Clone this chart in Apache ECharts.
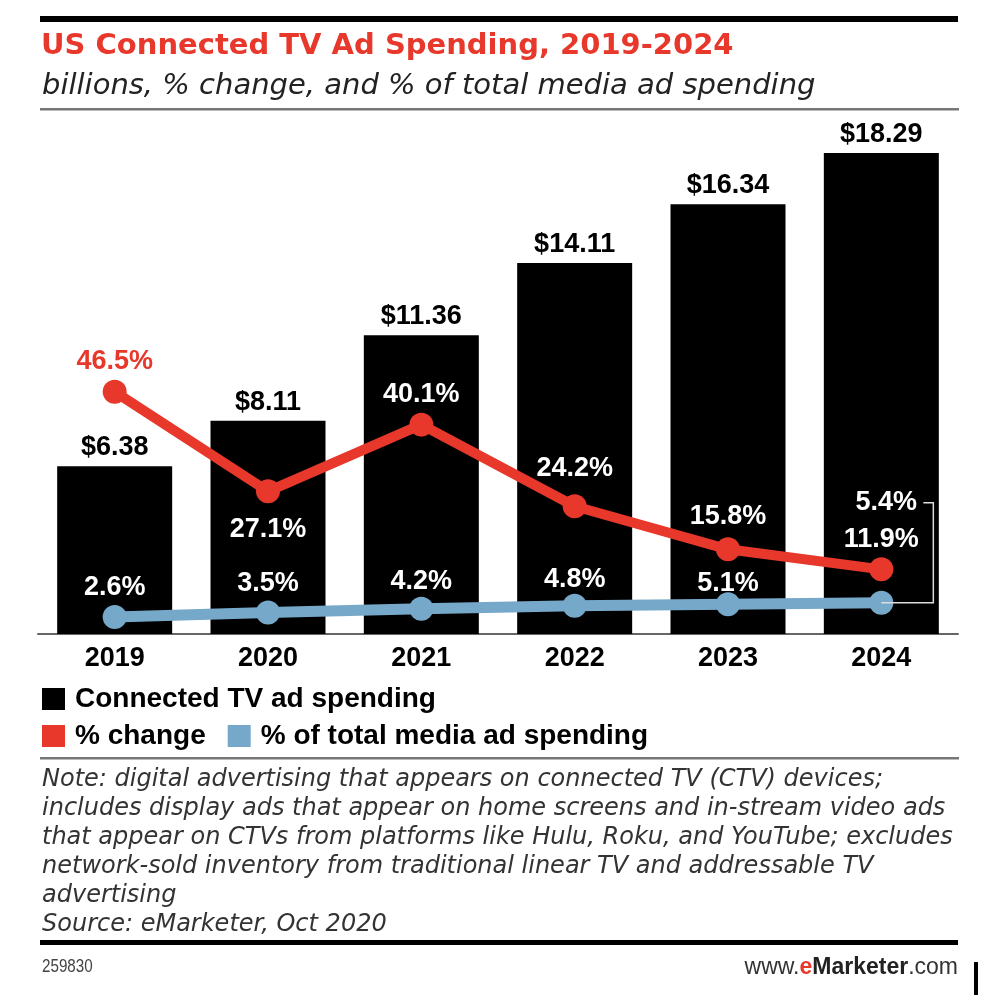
<!DOCTYPE html>
<html>
<head>
<meta charset="utf-8">
<script src="https://cdn.jsdelivr.net/npm/echarts@6/dist/echarts.min.js"></script>
<style>
html,body{margin:0;padding:0;background:#fff;}
#chart{width:982px;height:1006px;}
</style>
</head>
<body>
<div id="chart"></div>
<script>
var years = ['2019', '2020', '2021', '2022', '2023', '2024'];
var spending = [6.38, 8.11, 11.36, 14.11, 16.34, 18.29];
var pctChange = [46.5, 27.1, 40.1, 24.2, 15.8, 11.9];
var pctTotal = [2.6, 3.5, 4.2, 4.8, 5.1, 5.4];

var titleText = 'US Connected TV Ad Spending, 2019-2024';
var subtitleText = 'billions, % change, and % of total media ad spending';
var noteLines = [
  'Note: digital advertising that appears on connected TV (CTV) devices;',
  'includes display ads that appear on home screens and in-stream video ads',
  'that appear on CTVs from platforms like Hulu, Roku, and YouTube; excludes',
  'network-sold inventory from traditional linear TV and addressable TV',
  'advertising',
  'Source: eMarketer, Oct 2020'
];
var chartId = '259830';

var RED = '#E8382B';
var BLUE = '#76A8C9';
var LBL_FONT = '"Liberation Sans", Arial, sans-serif';
var DV = '"DejaVu Sans", sans-serif';

var chart = echarts.init(document.getElementById('chart'), null, {renderer: 'canvas'});

// label gaps (style only)
var redGap = [5, 13, 5, 12, 7, 4];
var blueGap = [4, 3, 2, 1, 0, 0];

var redData = pctChange.map(function (v, i) {
  var lab = {color: '#fff', position: 'top', distance: redGap[i]};
  if (i === 0) { lab.color = RED; }
  if (i === 1) { lab.position = 'bottom'; }
  return {value: v, label: lab};
});
var blueData = pctTotal.map(function (v, i) {
  var lab = {position: 'top', distance: blueGap[i]};
  if (i === 4) { lab.offset = [0, 5]; }
  if (i === pctTotal.length - 1) { lab = {position: 'inside', offset: [5, -100]}; }
  return {value: v, label: lab};
});

var graphics = [
  {type: 'rect', shape: {x: 40, y: 16, width: 918, height: 6}, style: {fill: '#000'}},
  {type: 'text', left: 41, top: 32, style: {text: titleText, fill: RED, font: 'bold 29px ' + DV}},
  {type: 'text', left: 42, top: 72, style: {text: subtitleText, fill: '#222', font: 'italic 29px ' + DV}},
  {type: 'rect', shape: {x: 40, y: 108, width: 919, height: 2.5}, style: {fill: '#777'}},
  {type: 'rect', shape: {x: 40, y: 757, width: 919, height: 2.5}, style: {fill: '#777'}},
  {type: 'rect', shape: {x: 40, y: 940, width: 918, height: 5}, style: {fill: '#000'}},
  {type: 'text', x: 42, y: 967, scaleX: 0.8, style: {x: 0, y: 0, text: chartId, fill: '#444', verticalAlign: 'middle',
    font: '19px "Liberation Sans", sans-serif'}},
  {type: 'text', right: 24, top: 956, style: {
    text: '{a|www.}{e|e}{m|Marketer}{a|.com}',
    rich: {
      a: {fill: '#333', font: '23px "Liberation Sans", sans-serif'},
      e: {fill: RED, font: 'bold 23px "Liberation Sans", sans-serif'},
      m: {fill: '#222', font: 'bold 23px "Liberation Sans", sans-serif'}
    }
  }},
  {type: 'rect', shape: {x: 974, y: 962, width: 4, height: 33}, style: {fill: '#000'}}
];
noteLines.forEach(function (t, i) {
  graphics.push({type: 'text', left: 42, top: 768 + i * 29, style: {text: t, fill: '#333', font: 'italic 24px ' + DV}});
});

var option = {
  animation: false,
  backgroundColor: '#fff',
  grid: {left: 38, right: 24, top: 108, bottom: 372, containLabel: false},
  legend: [
    {
      data: ['Connected TV ad spending'],
      left: 42, top: 685, padding: 0, icon: 'rect', itemWidth: 23, itemHeight: 22, itemGap: 22,
      textStyle: {fontFamily: LBL_FONT, fontWeight: 'bold', fontSize: 28, color: '#000', padding: [0, 0, 0, 5]}
    },
    {
      data: ['% change', '% of total media ad spending'],
      left: 42, top: 722, padding: 0, icon: 'rect', itemWidth: 23, itemHeight: 22, itemGap: 22,
      textStyle: {fontFamily: LBL_FONT, fontWeight: 'bold', fontSize: 28, color: '#000', padding: [0, 0, 0, 5]}
    }
  ],
  xAxis: {
    type: 'category', data: years,
    axisLine: {lineStyle: {color: '#666', width: 2}},
    axisTick: {show: false},
    axisLabel: {fontFamily: LBL_FONT, fontWeight: 'bold', fontSize: 27, color: '#000', margin: 11}
  },
  yAxis: [
    {type: 'value', min: 0, max: 20, show: false, splitLine: {show: false}},
    {type: 'value', min: -0.7, max: 101.8, show: false, splitLine: {show: false}}
  ],
  series: [
    {
      name: 'Connected TV ad spending', type: 'bar', data: spending, barWidth: 115,
      itemStyle: {color: '#000'},
      label: {show: true, position: 'top', distance: 5, color: '#000',
        fontFamily: LBL_FONT, fontWeight: 'bold', fontSize: 27,
        formatter: function (p) { return '$' + p.value.toFixed(2); }},
      z: 1
    },
    {
      name: '% change', type: 'line', yAxisIndex: 1, data: redData,
      color: RED, lineStyle: {color: RED, width: 10}, itemStyle: {color: RED},
      symbol: 'circle', symbolSize: 24,
      label: {show: true, fontFamily: LBL_FONT, fontWeight: 'bold', fontSize: 27,
        formatter: function (p) { return p.value.toFixed(1) + '%'; }},
      z: 3
    },
    {
      name: '% of total media ad spending', type: 'line', yAxisIndex: 1, data: blueData,
      color: BLUE, lineStyle: {color: BLUE, width: 11}, itemStyle: {color: BLUE},
      symbol: 'circle', symbolSize: 24,
      label: {show: true, color: '#fff', fontFamily: LBL_FONT, fontWeight: 'bold', fontSize: 27,
        formatter: function (p) { return p.value.toFixed(1) + '%'; }},
      z: 3
    }
  ],
  graphic: graphics
};
chart.setOption(option);

// bracket connecting the last blue point to its raised label
var lastIdx = years.length - 1;
var pt = chart.convertToPixel({xAxisIndex: 0, yAxisIndex: 1}, [years[lastIdx], pctTotal[lastIdx]]);
var bx = pt[0] + 52;
var topY = pt[1] - 100;
graphics.push({
  type: 'polyline', z: 10,
  shape: {points: [[pt[0], pt[1]], [bx, pt[1]], [bx, topY], [bx - 10, topY]]},
  style: {stroke: '#ddd', lineWidth: 1.5, fill: null}
});
chart.setOption({graphic: graphics});
</script>
</body>
</html>
